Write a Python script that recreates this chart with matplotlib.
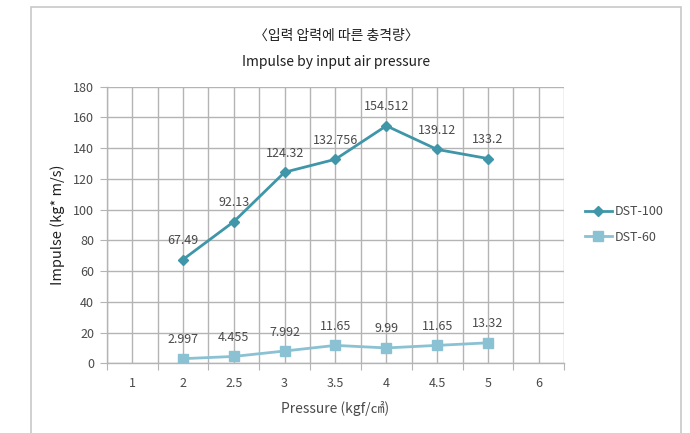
import matplotlib.pyplot as plt
import numpy as np
from matplotlib.patches import Rectangle

plt.rcParams['font.family'] = ['Noto Sans CJK KR', 'DejaVu Sans']

categories = ['1', '2', '2.5', '3', '3.5', '4', '4.5', '5', '6']
dst100_idx = [1, 2, 3, 4, 5, 6, 7]
dst100 = [67.49, 92.13, 124.32, 132.756, 154.512, 139.12, 133.2]
dst60_idx = [1, 2, 3, 4, 5, 6, 7]
dst60 = [2.997, 4.455, 7.992, 11.65, 9.99, 11.65, 13.32]
dst100_lbl = ['67.49', '92.13', '124.32', '132.756', '154.512', '139.12', '133.2']
dst60_lbl = ['2.997', '4.455', '7.992', '11.65', '9.99', '11.65', '13.32']

c100 = '#3f96a8'
c60 = '#8ac2d3'
txt = '#4a4a4a'
grid_c = '#b4b4b4'

fig = plt.figure(figsize=(6.9, 4.33), dpi=100)
# outer chart frame
fig.patches.append(Rectangle((31 / 690, -0.05), 650 / 690, (433 - 7) / 433 + 0.05,
                             transform=fig.transFigure, fill=False,
                             edgecolor='#c8c8c8', linewidth=1.2))

ax = fig.add_axes([0.1546, 0.161, 0.6632, 0.6389])

xc = np.arange(len(categories)) + 0.5
x100 = xc[dst100_idx]
x60 = xc[dst60_idx]

ax.plot(x100, dst100, color=c100, marker='D', markersize=5, linewidth=2, label='DST-100', zorder=3)
ax.plot(x60, dst60, color=c60, marker='s', markersize=7.5, linewidth=2, label='DST-60', zorder=3)

for x, y, s in zip(x100, dst100, dst100_lbl):
    ax.annotate(s, (x, y), xytext=(0, 9), textcoords='offset points',
                ha='center', va='bottom', fontsize=9, color=txt)
for x, y, s in zip(x60, dst60, dst60_lbl):
    ax.annotate(s, (x, y), xytext=(0, 9), textcoords='offset points',
                ha='center', va='bottom', fontsize=9, color=txt)

ax.set_xlim(0, len(categories))
ax.set_ylim(0, 180)
ax.set_yticks(np.arange(0, 181, 20))
ax.set_xticks(np.arange(0, len(categories) + 1))
ax.set_xticklabels([])
ax.set_xticks(xc, minor=True)
ax.set_xticklabels(categories, minor=True)

ax.tick_params(axis='x', which='major', length=5, color=grid_c, direction='out')
ax.tick_params(axis='x', which='minor', length=0, pad=10, labelsize=9, labelcolor=txt)
ax.tick_params(axis='y', length=5, color=grid_c, pad=4, labelsize=9, labelcolor=txt)

ax.grid(True, which='both', axis='x', color=grid_c, linewidth=1)
ax.grid(True, which='major', axis='y', color=grid_c, linewidth=1)
ax.set_axisbelow(True)
for side in ['top', 'right']:
    ax.spines[side].set_visible(False)
for side in ['left', 'bottom']:
    ax.spines[side].set_color(grid_c)
    ax.spines[side].set_linewidth(1)

ax.set_xlabel('Pressure (kgf/㎠)', fontsize=10, color=txt, labelpad=8)
ax.set_ylabel('Impulse (kg* m/s)', fontsize=10.5, color='#202020', labelpad=6)

fig.text(0.487, 0.918, '〈입력 압력에 따른 충격량〉', ha='center', va='center', fontsize=10, color='#202020')
fig.text(0.487, 0.857, 'Impulse by input air pressure', ha='center', va='center', fontsize=10, color='#202020')

ax.legend(loc='center left', bbox_to_anchor=(1.02, 0.502), frameon=False,
          fontsize=9, handlelength=2.2, handletextpad=0.2, labelspacing=1.0,
          labelcolor=txt)

fig.savefig('out.png', dpi=100)
